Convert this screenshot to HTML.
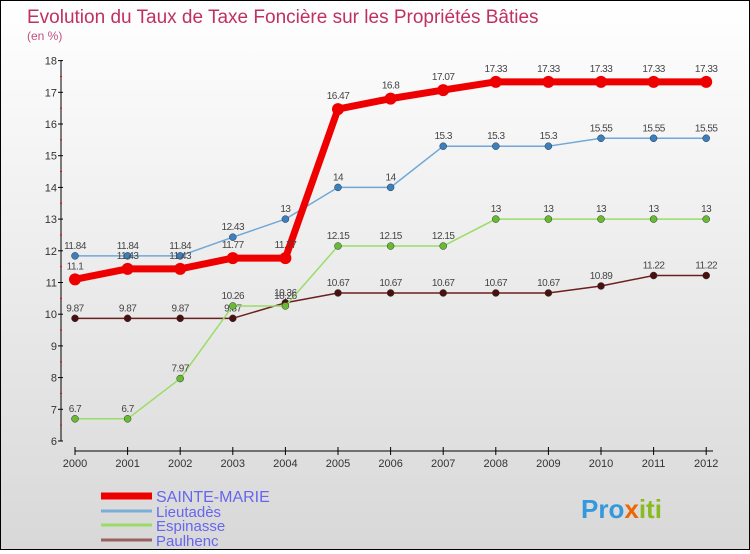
<!DOCTYPE html>
<html><head><meta charset="utf-8"><style>
body{margin:0}
#c{width:748px;height:548px;border:1px solid #000;background:linear-gradient(#fff,#d8d8d8);position:relative;font-family:"Liberation Sans",sans-serif}
</style></head><body>
<div id="c">
<svg id="s" width="748" height="548" xmlns="http://www.w3.org/2000/svg"></svg>
</div>
<script>
const years=[2000,2001,2002,2003,2004,2005,2006,2007,2008,2009,2010,2011,2012];
const yTicks=[6,7,8,9,10,11,12,13,14,15,16,17,18];
const sainte=[11.1,11.43,11.43,11.77,11.77,16.47,16.8,17.07,17.33,17.33,17.33,17.33,17.33];
const lieut=[11.84,11.84,11.84,12.43,13,14,14,15.3,15.3,15.3,15.55,15.55,15.55];
const espin=[6.7,6.7,7.97,10.26,10.26,12.15,12.15,12.15,13,13,13,13,13];
const paul=[9.87,9.87,9.87,9.87,10.36,10.67,10.67,10.67,10.67,10.67,10.89,11.22,11.22];
const names=["SAINTE-MARIE","Lieutadès","Espinasse","Paulhenc"];
const NS="http://www.w3.org/2000/svg";
const s=document.getElementById('s');
const X=i=>74+i*52.6;
const Y=v=>440-(v-6)*31.7;
function mk(t,a,p){const e=document.createElementNS(NS,t);for(const k in a)e.setAttribute(k,a[k]);(p||s).appendChild(e);return e;}
let t=mk('text',{x:26,y:22,fill:'#c03060','font-size':19});t.textContent="Evolution du Taux de Taxe Foncière sur les Propriétés Bâties";

t=mk('text',{x:26,y:39,fill:'#c05080','font-size':12});t.textContent="(en %)";

let ax=mk('line',{x1:60,y1:60,x2:60,y2:440,stroke:'#000'});

yTicks.forEach(v=>{mk('line',{x1:57,y1:Y(v),x2:62,y2:Y(v),stroke:'#000'});
 if(v<18)mk('line',{x1:59,y1:Y(v+0.5),x2:61,y2:Y(v+0.5),stroke:'red'});
 const l=mk('text',{x:56,y:Y(v)+4,'text-anchor':'end','font-size':11,fill:'#333'});l.textContent=v;
 });
ax=mk('line',{x1:74,y1:450,x2:712,y2:450,stroke:'#000'});

years.forEach((y,i)=>{mk('line',{x1:X(i),y1:446,x2:X(i),y2:454,stroke:'#000'});
 const l=mk('text',{x:X(i),y:466,'text-anchor':'middle','font-size':11,fill:'#333'});l.textContent=y;
 });
const series=[[paul,'#6b2020','#4a1010',1.5,3.5],[espin,'#99dd66','#66bb33',1.5,3.5],[lieut,'#6fa8d8','#3a7fc0',1.5,3.5],[sainte,'#ee0000','#ee0000',7,6]];
const snames=['paulhenc','espinasse','lieutades','sainte-marie'];
series.forEach(([d,c,dc,w,r],k)=>{
 const g=mk('g',{});
 mk('polyline',{points:d.map((v,i)=>X(i)+','+Y(v)).join(' '),fill:'none',stroke:c,'stroke-width':w,'stroke-linejoin':'round'},g);
 d.forEach((v,i)=>{const p=mk('circle',{cx:X(i),cy:Y(v),r:r,fill:dc,stroke:k<3?'#333':'none','stroke-width':0.5},g);
  
  const l=mk('text',{x:X(i),y:Y(v)-(k==3?10:7),'text-anchor':'middle','font-size':10,fill:'#444','letter-spacing':'-0.5'},g);l.textContent=v;
  });
});
const lc=['#ee0000','#7aaed6','#99dd66','#996060'];
names.forEach((n,i)=>{const yy=[497,512,526,541][i];
 const g=mk('g',{});
 mk('line',{x1:100,y1:yy-2,x2:151,y2:yy-2,stroke:lc[i],'stroke-width':i==0?7:3},g);
 const l=mk('text',{x:155,y:yy+4,'font-size':i==0?16:15,fill:'#6666ee'},g);l.textContent=n;});
const lg=mk('text',{x:580,y:517,'font-size':26,'font-weight':'bold'});

[['Pro','#3399dd'],['x','#ee6600'],['iti','#88bb22']].forEach(([t,c])=>{const ts=mk('tspan',{fill:c},lg);ts.textContent=t;});
</script>
</body></html>
